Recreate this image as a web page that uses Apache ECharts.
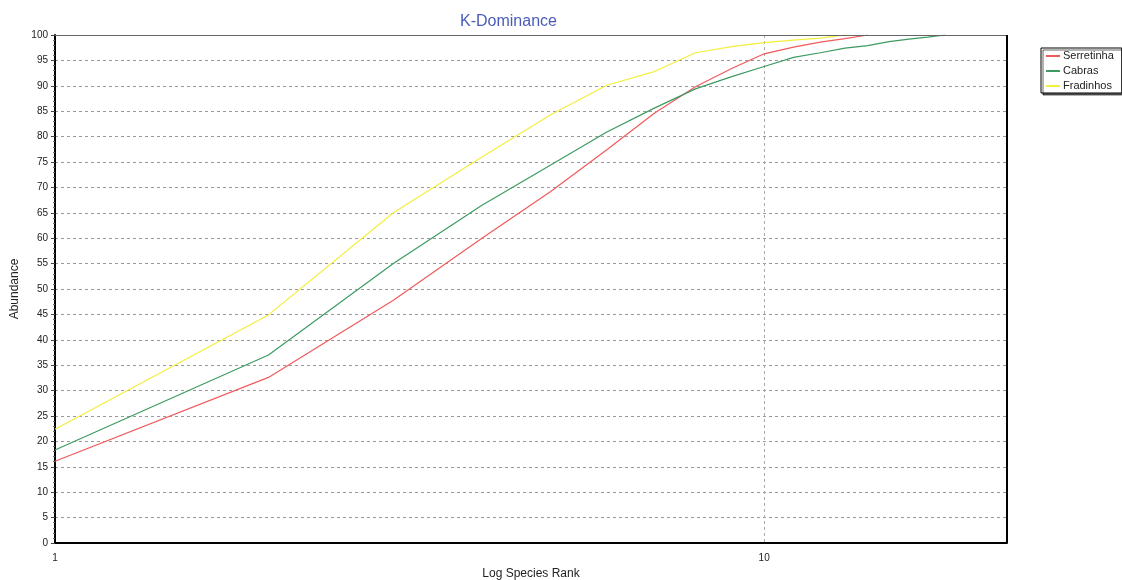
<!DOCTYPE html>
<html>
<head>
<meta charset="utf-8">
<script src="https://cdn.jsdelivr.net/npm/echarts@6/dist/echarts.min.js"></script>
<style>html,body{margin:0;padding:0;background:#fff;}#c{width:1122px;height:580px;}</style>
</head>
<body>
<div id="c"></div>
<script>
const ranks      = [1, 2, 3, 4, 5, 6, 7, 8, 9, 10, 11, 12, 13, 14, 15, 16, 17, 18];
const serretinha = [16.1, 32.6, 47.8, 60.0, 69.2, 77.4, 84.6, 89.8, 93.4, 96.3, 97.6, 98.6, 99.3, 100];
const cabras     = [18.3, 37.0, 55.0, 66.5, 74.4, 80.9, 85.6, 89.4, 91.8, 93.8, 95.6, 96.5, 97.4, 97.9, 98.7, 99.2, 99.6, 100];
const fradinhos  = [22.4, 44.9, 65.0, 76.0, 84.3, 90.1, 92.8, 96.5, 97.7, 98.5, 99.0, 99.4, 100];
const seriesNames = ['Serretinha', 'Cabras', 'Fradinhos'];
const yTicks = [0, 100, 5];
const xLabels = [1, 10];

function pairs(vals){ return vals.map((v,i)=>[ranks[i], v]); }
const colors = ['#f05a5c', '#3d9b62', '#f4ee3c'];
const font = 'Liberation Sans, Arial, sans-serif';

const chart = echarts.init(document.getElementById('c'), null, {renderer:'canvas'});
chart.setOption({
  animation: false,
  backgroundColor: '#fff',
  title: {
    text: 'K-Dominance', left: 455, top: 9,
    textStyle: {color: '#4a5cba', fontSize: 16, fontWeight: 'normal', fontFamily: font}
  },
  legend: {
    orient: 'vertical', left: 1041, top: 48,
    data: seriesNames,
    icon: 'rect', itemWidth: 14, itemHeight: 2, itemGap: 3,
    padding: [2, 8, 1, 5],
    borderColor: '#000', borderWidth: 1, backgroundColor: '#fff',
    shadowColor: 'rgba(0,0,0,0.6)', shadowOffsetX: 2, shadowOffsetY: 2, shadowBlur: 0,
    textStyle: {fontSize: 11, color: '#222', fontFamily: font, padding: [0,0,0,-2], lineHeight: 12}
  },
  grid: {left: 55, right: 115, top: 35, bottom: 37, show: false, outerBoundsMode: 'none', containLabel: false},
  xAxis: {
    type: 'log', logBase: 10, min: 1, max: 22,
    name: 'Log Species Rank', nameLocation: 'middle', nameGap: 24,
    nameTextStyle: {fontSize: 12, color: '#222', fontFamily: font},
    axisLine: {show: true, lineStyle: {color: '#000', width: 2}},
    axisTick: {show: false},
    axisLabel: {
      fontSize: 10, color: '#222', fontFamily: font, margin: 10,
      formatter: v => (xLabels.indexOf(Math.round(v)) >= 0 && Math.abs(v - Math.round(v)) < 1e-6) ? String(Math.round(v)) : ''
    },
    splitLine: {show: true, lineStyle: {color: '#aaa', type: [3, 3], width: 1}}
  },
  yAxis: {
    type: 'value', min: yTicks[0], max: yTicks[1], interval: yTicks[2],
    name: 'Abundance', nameLocation: 'middle', nameGap: 34, nameRotate: 90,
    nameTextStyle: {fontSize: 12, color: '#222', fontFamily: font},
    axisLine: {show: true, lineStyle: {color: '#000', width: 2}},
    axisTick: {show: true, length: 4, lineStyle: {color: '#444'}},
    minorTick: {show: true, splitNumber: 5, length: 2, lineStyle: {color: '#666'}},
    axisLabel: {fontSize: 10, color: '#222', fontFamily: font, margin: 7},
    splitLine: {show: true, lineStyle: {color: '#999', type: [3, 3], width: 1}}
  },
  graphic: [
    {type: 'line', silent: true, z: 10, shape: {x1: 55, y1: 35.5, x2: 1007, y2: 35.5}, style: {stroke: '#666', lineWidth: 1}},
    {type: 'line', silent: true, z: 10, shape: {x1: 1007, y1: 35, x2: 1007, y2: 543}, style: {stroke: '#000', lineWidth: 2}}
  ],
  series: [
    {name: seriesNames[0], type: 'line', data: pairs(serretinha), showSymbol: false, symbol: 'none', color: colors[0], lineStyle: {width: 1.2, color: colors[0]}},
    {name: seriesNames[1], type: 'line', data: pairs(cabras), showSymbol: false, symbol: 'none', color: colors[1], lineStyle: {width: 1.2, color: colors[1]}},
    {name: seriesNames[2], type: 'line', data: pairs(fradinhos), showSymbol: false, symbol: 'none', color: colors[2], lineStyle: {width: 1.2, color: colors[2]}}
  ]
});
</script>
</body>
</html>
